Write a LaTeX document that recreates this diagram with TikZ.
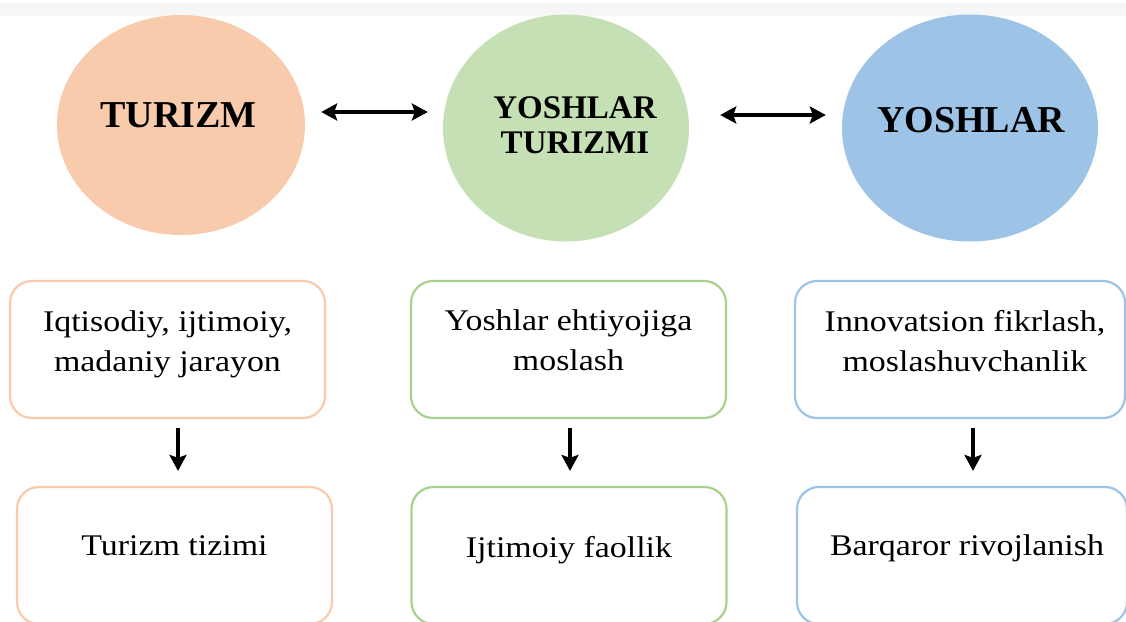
\documentclass[tikz,border=0pt]{standalone}
\usepackage{fontspec}
\setmainfont{Liberation Serif}
\newfontfamily\bxfont[FakeStretch=1.13]{Liberation Serif}
\usetikzlibrary{shapes.geometric,arrows.meta}
\definecolor{orfill}{HTML}{F8CBAD}
\definecolor{grfill}{HTML}{C5E0B4}
\definecolor{blfill}{HTML}{9DC3E6}
\definecolor{ordraw}{HTML}{F8CBAD}
\definecolor{grdraw}{HTML}{A9D18E}
\definecolor{bldraw}{HTML}{9DC3E6}
\definecolor{band}{HTML}{F6F6F6}
\begin{document}
\begin{tikzpicture}[x=1pt,y=-1pt,
  circ/.style={ellipse,inner sep=0pt,draw=none},
  ctext/.style={font=\bfseries\fontsize{38}{40}\selectfont,inner sep=0pt,align=center},
  ctextm/.style={font=\bfseries\fontsize{33}{35}\selectfont,inner sep=0pt,align=center},
  box/.style={rectangle,rounded corners=22pt,line width=2.2pt,fill=white,minimum width=315pt,minimum height=137pt,inner sep=0pt},
  btext/.style={font=\bxfont\fontsize{30}{40}\selectfont,inner sep=0pt,align=center},
  tip/.tip={Stealth[length=16pt,width=17pt,inset=3pt]},
  harr/.style={line width=4pt,tip-tip},
  varr/.style={line width=4pt,-tip}]
\useasboundingbox (0,0) rectangle (1126,621);
\fill[white] (0,0) rectangle (1126,621);
\fill[band] (0,3) rectangle (1126,16);

% circles
\node[circ,fill=orfill,minimum width=248pt,minimum height=220pt] (c1) at (181,125) {};
\node[circ,fill=grfill,minimum width=246pt,minimum height=227pt] (c2) at (566,128) {};
\node[circ,fill=blfill,minimum width=256pt,minimum height=227pt] (c3) at (970,128) {};
\node[ctext,anchor=base] (t1) at (178.5,127) {TURIZM};
\node[ctextm] (t2) at (575,129) {\strut YOSHLAR\\\strut TURIZMI};
\node[ctext,anchor=base] (t3) at (971,132) {YOSHLAR};

% horizontal arrows
\draw[harr] ([xshift=16pt,yshift=13pt]c1.east) -- ([xshift=-15pt,yshift=16pt]c2.west);
\draw[harr] ([xshift=31pt,yshift=13pt]c2.east) -- ([xshift=-16pt,yshift=13pt]c3.west);

% boxes row 1
\node[box,draw=ordraw] (b1) at (167.5,349.5) {};
\node[box,draw=grdraw] (b2) at (568.5,349.5) {};
\node[box,draw=bldraw,minimum width=330pt] (b3) at (960,349.5) {};
% boxes row 2
\node[box,draw=ordraw] (b4) at (174.5,555.5) {};
\node[box,draw=grdraw] (b5) at (569,555.5) {};
\node[box,draw=bldraw,minimum width=330pt] (b6) at (962,555.5) {};

% texts
\node[btext] (x1) at (167.5,343) {\strut Iqtisodiy, ijtimoiy,\\\strut madaniy jarayon};
\node[btext] (x2) at (568.5,342) {\strut Yoshlar ehtiyojiga\\\strut moslash};
\node[btext] (x3) at (965,343) {\strut Innovatsion fikrlash,\\\strut moslashuvchanlik};
\node[btext] (x4) at (174.5,547) {\strut Turizm tizimi};
\node[btext] (x5) at (569,549) {\strut Ijtimoiy faollik};
\node[btext] (x6) at (967,547) {\strut Barqaror rivojlanish};

% vertical arrows
\draw[varr] ([xshift=10.5pt,yshift=-9pt]b1.south) -- ([xshift=3.5pt,yshift=15pt]b4.north);
\draw[varr] ([xshift=1.5pt,yshift=-9pt]b2.south) -- ([xshift=1pt,yshift=15pt]b5.north);
\draw[varr] ([xshift=13pt,yshift=-9pt]b3.south) -- ([xshift=11pt,yshift=15pt]b6.north);
\end{tikzpicture}
\end{document}
